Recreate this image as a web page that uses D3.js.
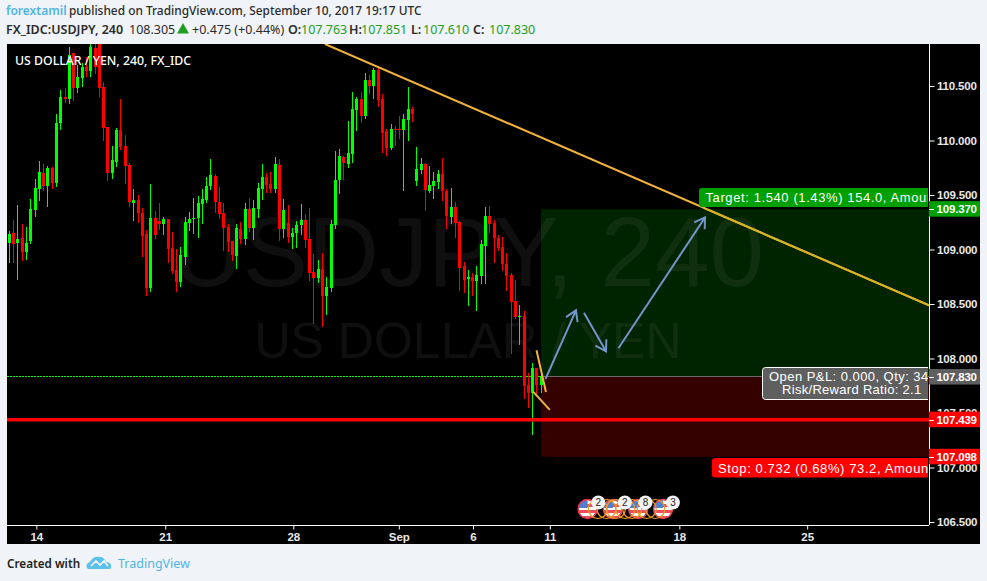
<!DOCTYPE html>
<html><head><meta charset="utf-8">
<script src="https://cdnjs.cloudflare.com/ajax/libs/d3/7.8.5/d3.min.js"></script>
<style>html,body{margin:0;padding:0;background:#f0f3f7;overflow:hidden}svg{display:block}</style>
</head><body><div id="c"></div>
<script>
const highs=[109.170,109.271,109.408,109.234,109.206,109.463,109.647,109.812,109.784,109.766,109.757,110.243,110.463,110.482,110.858,110.803,110.693,110.711,110.766,110.885,110.885,110.885,110.537,110.124,109.950,110.115,110.381,110.050,109.794,109.555,109.500,109.381,109.179,109.601,109.353,109.427,109.298,109.280,109.161,109.005,109.023,109.298,109.344,109.472,109.491,109.555,109.665,109.830,109.693,109.573,109.427,109.234,109.078,109.234,109.252,109.427,109.472,109.454,109.610,109.784,109.702,109.711,109.849,109.830,109.463,109.408,109.197,109.262,109.418,109.326,109.381,108.959,108.904,108.968,108.748,109.271,109.904,109.922,109.858,110.179,110.445,110.399,110.445,110.619,110.601,110.665,110.665,110.427,110.106,110.151,110.133,110.225,110.243,110.491,110.307,109.940,109.840,109.794,109.766,109.711,109.729,109.840,109.555,109.564,109.436,109.262,108.885,108.812,108.785,108.849,109.087,109.390,109.399,109.271,109.133,109.115,108.968,108.785,108.720,108.491,108.436,107.867,107.959,107.913,107.895];
const lows=[108.876,108.876,108.720,108.895,108.904,109.051,109.298,109.445,109.537,109.390,109.555,109.573,110.096,110.344,110.335,110.362,110.436,110.491,110.583,110.583,110.610,110.399,109.995,109.628,109.647,109.757,109.913,109.601,109.390,109.262,109.243,108.931,108.573,108.610,109.096,109.179,109.133,108.876,108.775,108.610,108.656,108.858,109.170,109.142,109.106,109.234,109.427,109.546,109.335,109.280,108.986,108.977,108.895,108.821,109.051,109.041,109.161,109.087,109.289,109.454,109.518,109.518,109.518,109.078,109.106,109.060,109.005,109.014,109.133,109.014,108.711,108.317,108.693,108.289,108.399,108.610,109.188,109.509,109.638,109.748,109.794,110.087,110.161,110.197,110.427,110.381,110.307,109.885,109.858,109.913,109.950,110.014,109.537,109.995,110.170,109.583,109.693,109.353,109.518,109.463,109.555,109.445,109.188,109.234,109.106,108.619,108.601,108.482,108.573,108.436,108.684,108.684,109.151,108.876,108.986,108.803,108.619,108.041,108.362,108.124,107.629,107.546,107.298,107.665,107.684];
const opens=[109.060,109.151,109.060,109.106,108.977,109.078,109.362,109.555,109.702,109.583,109.748,109.610,110.161,110.399,110.381,110.803,110.482,110.573,110.674,110.638,110.849,110.885,110.491,110.124,109.702,109.803,110.096,109.950,109.775,109.427,109.454,109.335,109.142,108.647,109.289,109.262,109.234,109.280,109.014,108.812,108.702,108.931,109.243,109.280,109.289,109.418,109.454,109.583,109.674,109.436,109.335,109.206,109.078,108.940,109.188,109.096,109.372,109.197,109.372,109.555,109.665,109.601,109.555,109.775,109.188,109.243,109.115,109.151,109.225,109.271,109.096,108.794,108.739,108.821,108.573,108.647,109.225,109.638,109.849,109.784,109.876,110.280,110.381,110.225,110.555,110.500,110.647,110.381,110.087,109.931,110.106,110.106,110.096,110.188,110.289,109.628,109.729,109.784,109.537,109.583,109.619,109.693,109.537,109.298,109.390,109.252,108.849,108.729,108.748,108.711,108.757,109.032,109.307,109.243,109.106,109.023,108.867,108.766,108.528,108.381,108.390,107.757,107.684,107.913,107.757];
const closes=[109.142,109.051,109.096,108.977,109.060,109.372,109.564,109.711,109.583,109.748,109.610,110.161,110.399,110.381,110.784,110.482,110.583,110.674,110.638,110.858,110.674,110.482,110.115,109.702,109.821,110.096,109.940,109.766,109.436,109.454,109.335,109.124,108.647,109.289,109.133,109.234,109.280,109.005,108.803,108.702,108.950,109.252,109.280,109.289,109.427,109.463,109.583,109.684,109.436,109.326,109.197,109.069,108.950,109.197,109.096,109.372,109.197,109.381,109.564,109.665,109.592,109.555,109.784,109.188,109.362,109.115,109.151,109.225,109.271,109.087,108.785,108.739,108.821,108.573,108.656,109.234,109.638,109.858,109.794,109.885,110.289,110.381,110.225,110.555,110.500,110.647,110.372,110.069,109.931,110.106,110.096,110.096,110.197,110.289,110.243,109.739,109.784,109.546,109.592,109.628,109.693,109.537,109.307,109.390,109.243,108.830,108.720,108.748,108.711,108.766,109.051,109.307,109.234,109.106,109.014,108.867,108.757,108.518,108.381,108.390,107.748,107.684,107.913,107.757,107.840];

const priceTicks=[106.5,107,107.5,108,108.5,109,109.5,110,110.5];
const dateTickBars=[6.3,36.35,66.2,90.8,108.1,126,156.2,186];
const dateTickLabels=["14","21","28","Sep","6","11","18","25"];

const trendLine=[[73.58,110.885],[214.4,108.488]];
const patternLines=[[[122.9,108.075],[125.1,107.693]],[[122.1,107.696],[126,107.528]]];
const arrowLines=[[[125,107.812],[132.1,108.442]],[[133.96,108.42],[139.1,108.066]],[[142,108.094],[162.2,109.295]]];
const entryBar=123.95, entryPrice=107.83, targetPrice=109.37, stopPrice=107.098, supportPrice=107.439;
const axisFlags=[{p:targetPrice,t:"109.370",c:"#00a000"},{p:entryPrice,t:"107.830",c:"#5f5f5f"},{p:supportPrice,t:"107.439",c:"#ff0000"},{p:stopPrice,t:"107.098",c:"#ff0000"}];
const eventBars=[134.8,140.7,146.6,152.4];
const eventRingBars=[137.2,139.2,141.4,143.6,145.2,148.6,150.6];
const eventBadges=["2","2","8","3"];
const eventBadgeBars=[137.3,143.5,148.3,154.7];

const W=987,H=581,L=7,T=44,AX=929,R=980,B=525,BB=544;
const FONT='"Liberation Sans",Arial,sans-serif', HF='"Noto Sans",sans-serif';
const svg=d3.select("#c").append("svg").attr("width",W).attr("height",H).attr("viewBox",`0 0 ${W} ${H}`);
svg.append("rect").attr("width",W).attr("height",H).attr("fill","#f0f3f7");
svg.append("rect").attr("x",L).attr("y",T).attr("width",R-L).attr("height",BB-T).attr("fill","#000");
const x=d3.scaleLinear().domain([0,214.4]).range([9.33,929]);
const y=d3.scaleLinear().domain([106.5,110.5]).range([522,86]);
const defs=svg.append("defs");
defs.append("clipPath").attr("id","plot").append("rect").attr("x",L).attr("y",T).attr("width",AX-L).attr("height",B-T);
const g=svg.append("g").attr("clip-path","url(#plot)");

// risk/reward zones
g.append("rect").attr("x",x(entryBar)).attr("y",y(targetPrice)).attr("width",AX-x(entryBar)).attr("height",y(entryPrice)-y(targetPrice)).attr("fill","#002300");
g.append("rect").attr("x",x(entryBar)).attr("y",y(entryPrice)).attr("width",AX-x(entryBar)).attr("height",y(stopPrice)-y(entryPrice)).attr("fill","#340000");

// watermark
g.append("text").attr("x",468).attr("y",286).attr("text-anchor","middle").attr("font-family",FONT).attr("font-size",98).attr("fill","rgba(255,255,255,.06)").text("USDJPY, 240");
g.append("text").attr("x",468).attr("y",358).attr("text-anchor","middle").attr("font-family",FONT).attr("font-size",50).attr("fill","rgba(255,255,255,.06)").text("US DOLLAR / YEN");

// entry lines
g.append("line").attr("x1",x(entryBar)).attr("x2",AX).attr("y1",376.5).attr("y2",376.5).attr("stroke","#6a6a6a");
g.append("line").attr("x1",L).attr("x2",x(entryBar)).attr("y1",376.5).attr("y2",376.5).attr("stroke","#00ff00").attr("stroke-dasharray","2 1");

// candles
const idx=d3.range(highs.length);
const cg=g.append("g").attr("shape-rendering","crispEdges");
const col=i=>closes[i]>=opens[i]?"#00ff00":"#ff0000";
cg.selectAll(".w").data(idx).join("rect").attr("x",i=>Math.floor(x(i))).attr("width",1)
  .attr("y",i=>y(highs[i])).attr("height",i=>y(lows[i])-y(highs[i])).attr("fill",col);
cg.selectAll(".b").data(idx).join("rect").attr("x",i=>Math.floor(x(i))-1).attr("width",3)
  .attr("y",i=>y(Math.max(opens[i],closes[i]))).attr("height",i=>Math.max(1,Math.abs(y(opens[i])-y(closes[i])))).attr("fill",col);

// support line
g.append("line").attr("x1",L).attr("x2",AX).attr("y1",y(supportPrice)).attr("y2",y(supportPrice)).attr("stroke","#ff0000").attr("stroke-width",3.5);

// trend and pattern lines
const ln=d3.line().x(d=>x(d[0])).y(d=>y(d[1]));
defs.append("clipPath").attr("id","zone").append("rect").attr("x",x(entryBar)).attr("y",y(targetPrice)).attr("width",AX-x(entryBar)).attr("height",y(stopPrice)-y(targetPrice));
g.append("path").attr("d",ln(trendLine)).attr("fill","none").attr("stroke","#f3b23a").attr("stroke-width",2);
g.append("g").attr("clip-path","url(#zone)").append("path").attr("d",ln(trendLine)).attr("fill","none").attr("stroke","#d8b321").attr("stroke-width",2);
patternLines.forEach(p=>g.append("path").attr("d",ln(p)).attr("fill","none").attr("stroke","#f3b23a").attr("stroke-width",2));

// arrows
arrowLines.forEach(a=>{
  const x0=x(a[0][0]),y0=y(a[0][1]),x1=x(a[1][0]),y1=y(a[1][1]),an=Math.atan2(y1-y0,x1-x0),h=12,s=0.55;
  const p=`M${x0},${y0}L${x1},${y1}M${x1-h*Math.cos(an-s)},${y1-h*Math.sin(an-s)}L${x1},${y1}L${x1-h*Math.cos(an+s)},${y1-h*Math.sin(an+s)}`;
  g.append("path").attr("d",p).attr("fill","none").attr("stroke","#7294c8").attr("stroke-width",2);
});

// event markers
const ev=g.append("g");
const evY=509;
eventBars.forEach((b,i)=>{
  const cx=x(b),id="fl"+i;
  defs.append("clipPath").attr("id",id).append("circle").attr("cx",cx).attr("cy",evY).attr("r",9);
  const f=ev.append("g").attr("clip-path",`url(#${id})`);
  f.append("rect").attr("x",cx-10).attr("y",evY-10).attr("width",20).attr("height",20).attr("fill","#fff");
  d3.range(0,3).forEach(k=>f.append("rect").attr("x",cx-10).attr("y",evY-5+k*6).attr("width",20).attr("height",3).attr("fill","#ef4a5a"));
  f.append("rect").attr("x",cx-10).attr("y",evY-10).attr("width",10).attr("height",9).attr("fill","#4f7fcf");
  ev.append("circle").attr("cx",cx).attr("cy",evY).attr("r",9.5).attr("fill","none").attr("stroke",i==0?"#ee3350":"#e8475a").attr("stroke-width",1.3);
});
eventRingBars.forEach(b=>ev.append("circle").attr("cx",x(b)).attr("cy",evY).attr("r",9.5).attr("fill","none").attr("stroke","#f29a1f").attr("stroke-width",1.2));
eventBadges.forEach((t,i)=>{
  const cx=x(eventBadgeBars[i]);
  ev.append("circle").attr("cx",cx).attr("cy",502.5).attr("r",7).attr("fill","#f4f4f4");
  ev.append("text").attr("x",cx).attr("y",506).attr("text-anchor","middle").attr("font-family",FONT).attr("font-size",10).attr("fill","#222").text(t);
});

// axes
const yAxis=d3.axisRight(y).tickValues(priceTicks).tickFormat(d3.format(".3f")).tickSize(5).tickPadding(3);
const ya=svg.append("g").attr("transform",`translate(${AX}.5,0)`).call(yAxis);
ya.select(".domain").attr("d",`M0,${T}V${B}`).attr("stroke","#fff");
ya.selectAll("line").attr("stroke","#fff");
ya.selectAll("text").attr("fill","#e8e8e8").attr("font-family",FONT).attr("font-size",11.5).attr("letter-spacing","-.18").attr("font-weight","bold").attr("x",7.5);
const xAxis=d3.axisBottom(d3.scaleLinear().domain(x.domain()).range(x.range())).tickValues(dateTickBars).tickFormat((d,i)=>dateTickLabels[i]).tickSize(4).tickPadding(3);
const xa=svg.append("g").attr("transform",`translate(0,${B}.5)`).call(xAxis);
xa.select(".domain").attr("d",`M${L},0H${AX}`).attr("stroke","#fff");
xa.selectAll("line").attr("stroke","#fff");
xa.selectAll("text").attr("fill","#e8e8e8").attr("font-family",FONT).attr("font-size",11.5).attr("font-weight","bold");

// axis flags
axisFlags.forEach(f=>{
  const yy=y(f.p);
  svg.append("rect").attr("x",AX).attr("y",yy-8).attr("width",R-AX).attr("height",15.5).attr("fill",f.c);
  svg.append("line").attr("x1",AX).attr("x2",AX+5).attr("y1",Math.round(yy)+.5).attr("y2",Math.round(yy)+.5).attr("stroke","#fff");
  svg.append("text").attr("x",AX+7.5).attr("y",yy+4).attr("fill","#fff").attr("font-family",FONT).attr("font-size",11.5).attr("letter-spacing","-.18").attr("font-weight","bold").text(f.t);
});

// position labels
defs.append("clipPath").attr("id","lab").append("rect").attr("x",L).attr("y",T).attr("width",AX-L-1).attr("height",B-T);
const lab=svg.append("g").attr("clip-path","url(#lab)");
function box(x0,y0,w,h,fill,stroke){lab.append("rect").attr("x",x0).attr("y",y0).attr("width",w).attr("height",h).attr("rx",3).attr("fill",fill).attr("stroke",stroke||"none");}
function txt(x0,yy,t,sp){lab.append("text").attr("x",x0).attr("y",yy).attr("font-family",FONT).attr("font-size",13).attr("letter-spacing",sp).attr("fill","#fff").text(t);}
box(699,188,240,19,"#00a000");
txt(705.5,202,"Target: 1.540 (1.43%) 154.0, Amount: 10000",".6");
box(712,458,230,19.5,"#ff0000");
txt(718,472.5,"Stop: 0.732 (0.68%) 73.2, Amount: 10000",".6");
box(762.5,367.5,180,32,"#5f5f5f","#fff");
txt(769,381,"Open P&L: 0.000, Qty: 34000",".45");
txt(782,394,"Risk/Reward Ratio: 2.1",".3");

// inset title
svg.append("text").attr("x",15).attr("y",65).attr("fill","#fff").attr("font-family",HF).attr("font-size",12.3).attr("font-weight",500).text("US DOLLAR / YEN, 240, FX_IDC");

// header
function head(xp,yp,t,fill,weight,size){svg.append("text").attr("x",xp).attr("y",yp).attr("font-family",HF).attr("font-size",size||12).attr("font-weight",weight).attr("fill",fill).text(t);}
const INK="#2b2b2b",UP="#1f9e1f",LINK="#4fb3e8";
head(6,15,"forextamil",LINK,600);
head(69,15,"published on TradingView.com, September 10, 2017 19:17 UTC",INK,500,11.9);
head(6,34,"FX_IDC:USDJPY, 240",INK,600,12.5);
head(129,34,"108.305",INK,400,12.5);
svg.append("path").attr("d",d3.symbol(d3.symbolTriangle,62)).attr("transform","translate(183,30)").attr("fill",UP);
head(192,34,"+0.475 (+0.44%)",INK,400,12.5);
head(288,34,"O:",INK,600,12.5);head(301,34,"107.763",UP,400,12.5);
head(349,34,"H:",INK,600,12.5);head(361,34,"107.851",UP,400,12.5);
head(411,34,"L:",INK,600,12.5);head(423,34,"107.610",UP,400,12.5);
head(473,34,"C:",INK,600,12.5);head(489,34,"107.830",UP,400,12.5);

// footer
svg.append("text").attr("x",7).attr("y",568).attr("font-family",HF).attr("font-size",11.7).attr("font-weight",600).attr("fill","#222").text("Created with");
svg.append("path").attr("d","M88,569c-3,-3 -1,-6 2,-7c2,-4 5,-6 10,-5c3,0 5,2 6,5c4,0 6,3 5,5c0,2 -1,2 -3,2z").attr("fill","#5cc1e8");
svg.append("path").attr("d","M91,566l5,-5l4,4l4,-4l4,5").attr("fill","none").attr("stroke","#f0f3f7").attr("stroke-width",1.6);
svg.append("text").attr("x",118).attr("y",568).attr("font-family",HF).attr("font-size",12.5).attr("fill","#4fb3e8").text("TradingView");
</script></body></html>
